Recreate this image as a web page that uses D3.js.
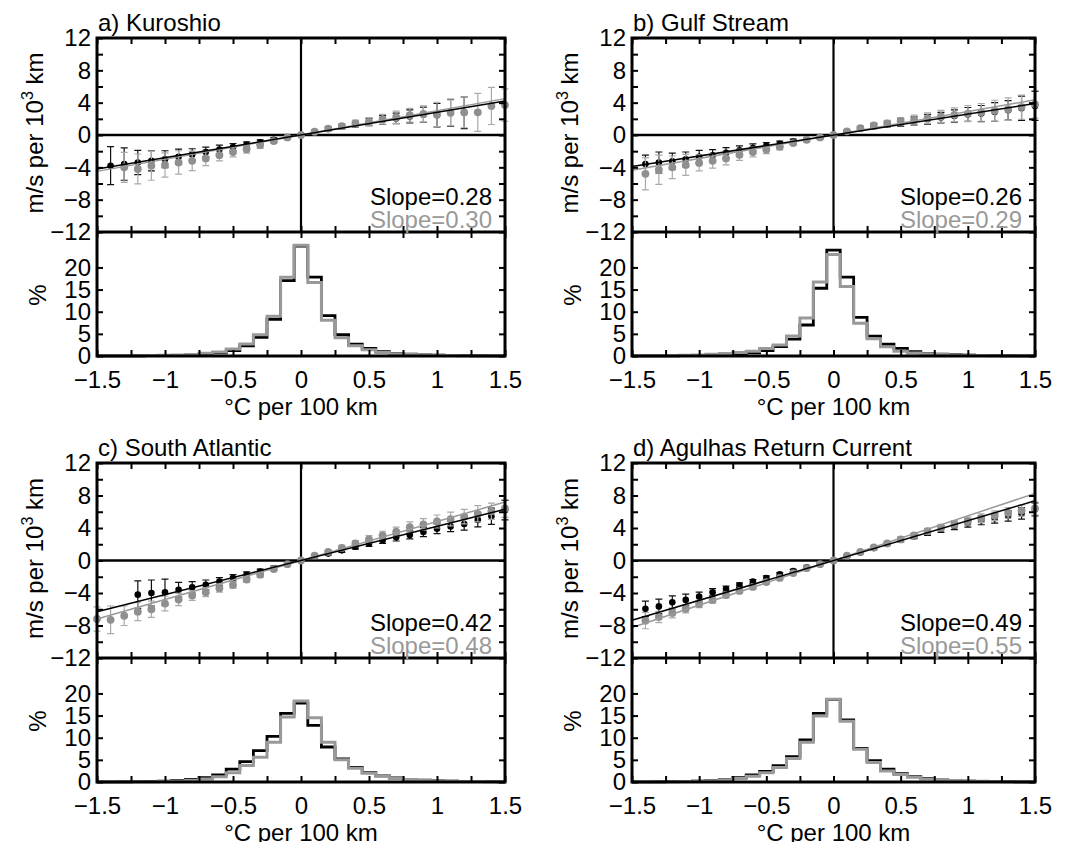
<!DOCTYPE html>
<html><head><meta charset="utf-8">
<script src="https://cdn.jsdelivr.net/npm/d3@7"></script>
<style>
body{margin:0;background:#fff}
svg{display:block}
text{font-family:"Liberation Sans",Arial,Helvetica,sans-serif;font-size:24px;fill:#000}
</style>
</head><body>
<svg id="chart" width="1066" height="842"></svg>
<script>
// ---------------- DATA ----------------
const X_BINS = [-1.5,-1.4,-1.3,-1.2,-1.1,-1.0,-0.9,-0.8,-0.7,-0.6,-0.5,-0.4,-0.3,-0.2,-0.1,0,0.1,0.2,0.3,0.4,0.5,0.6,0.7,0.8,0.9,1.0,1.1,1.2,1.3,1.4,1.5];

const titles = ["a) Kuroshio", "b) Gulf Stream", "c) South Atlantic", "d) Agulhas Return Current"];
const slopeBlack = [0.28, 0.26, 0.42, 0.49];
const slopeGray  = [0.30, 0.29, 0.48, 0.55];

// a) Kuroshio
const kuroBlackMean = [null,-3.8,-3.6,-3.4,-3.2,-3.0,-2.7,-2.4,-2.1,-1.8,-1.5,-1.2,-0.9,-0.6,-0.3,0,0.4,0.75,1.05,1.35,1.6,1.85,2.05,2.3,2.5,2.45,2.75,2.75,null,null,null];
const kuroBlackErr  = [null,2.35,2.0,1.5,1.25,1.05,0.95,0.7,0.6,0.55,0.45,0.35,0.3,0.25,0.2,0,0.2,0.25,0.3,0.35,0.45,0.55,0.65,0.8,0.95,1.45,1.65,1.95,null,null,null];
const kuroGrayMean  = [null,null,-4.0,-4.2,-3.8,-3.7,-3.4,-3.2,-2.9,-2.5,-2.1,-1.75,-1.25,-0.75,-0.3,0,0.4,0.8,1.1,1.45,1.65,1.95,2.2,2.45,2.6,2.55,2.75,2.8,2.8,3.6,3.7];
const kuroGrayErr   = [null,null,1.85,1.85,1.8,1.5,1.45,1.2,0.9,0.7,0.6,0.5,0.4,0.3,0.2,0,0.2,0.25,0.3,0.4,0.5,0.6,0.75,0.85,1.0,1.5,1.6,1.9,2.35,2.3,2.0];
const kuroBlackHist = [0.02,0.03,0.04,0.05,0.07,0.1,0.15,0.25,0.4,0.7,1.2,2.3,4.2,8.3,17.0,24.8,17.8,9.1,4.8,2.7,1.7,1.0,0.6,0.4,0.25,0.2,0.12,0.08,0.06,0.04,0.03];
const kuroGrayHist  = [0.03,0.04,0.05,0.07,0.1,0.15,0.25,0.35,0.6,0.9,1.6,2.7,4.8,9.0,17.8,25.0,16.6,8.1,4.1,2.3,1.4,0.8,0.5,0.35,0.25,0.15,0.1,0.07,0.05,0.04,0.03];

// b) Gulf Stream
const gulfBlackMean = [null,-3.6,-3.4,-3.25,-3.0,-2.7,-2.5,-2.2,-1.9,-1.6,-1.35,-1.1,-0.8,-0.55,-0.3,0,0.4,0.8,1.1,1.35,1.55,1.75,1.95,2.15,2.35,2.55,2.65,2.85,3.05,3.3,3.6];
const gulfBlackErr  = [null,1.1,1.3,1.0,0.9,0.8,0.7,0.65,0.55,0.5,0.4,0.35,0.3,0.2,0.15,0,0.15,0.2,0.3,0.35,0.45,0.5,0.6,0.65,0.75,0.85,1.0,1.15,1.2,1.5,1.8];
const gulfGrayMean  = [null,-4.8,-4.3,-4.0,-3.7,-3.45,-3.2,-2.9,-2.45,-2.1,-1.8,-1.45,-1.0,-0.6,-0.3,0,0.45,0.85,1.2,1.45,1.7,1.9,2.1,2.3,2.5,2.65,2.8,3.0,3.2,3.45,3.8];
const gulfGrayErr   = [null,2.0,1.8,1.4,1.3,1.0,0.9,0.8,0.7,0.6,0.5,0.4,0.3,0.25,0.2,0,0.2,0.25,0.3,0.35,0.45,0.55,0.65,0.75,0.85,1.0,1.1,1.3,1.4,1.5,1.7];
const gulfBlackHist = [0.02,0.03,0.04,0.06,0.08,0.15,0.2,0.3,0.5,0.7,1.2,2.1,3.8,7.0,15.3,23.9,17.8,8.7,4.5,2.65,1.7,1.0,0.6,0.4,0.3,0.2,0.12,0.08,0.06,0.04,0.03];
const gulfGrayHist  = [0.03,0.05,0.07,0.1,0.15,0.25,0.4,0.55,0.8,1.1,1.7,2.5,4.5,8.6,16.7,22.9,15.7,7.4,3.9,2.1,1.1,0.7,0.5,0.35,0.25,0.2,0.12,0.08,0.06,0.04,0.03];

// c) South Atlantic
const satlBlackMean = [null,null,null,-4.2,-4.0,-3.9,-3.6,-3.3,-3.0,-2.6,-2.15,-1.75,-1.35,-0.95,-0.45,0,0.5,0.85,1.25,1.7,2.1,2.5,2.85,3.15,3.5,3.9,4.2,4.5,5.0,5.45,6.2];
const satlBlackErr  = [null,null,null,1.7,1.6,1.6,0.9,0.7,0.6,0.5,0.4,0.35,0.3,0.25,0.2,0,0.15,0.2,0.25,0.3,0.35,0.4,0.45,0.5,0.55,0.6,0.65,0.75,0.85,1.0,1.2];
const satlGrayMean  = [-7.2,-7.3,-6.8,-6.3,-6.0,-5.3,-4.8,-4.3,-3.9,-3.4,-3.0,-2.35,-1.75,-1.05,-0.45,0,0.6,1.05,1.55,2.1,2.6,3.1,3.55,4.1,4.45,4.8,5.1,5.4,5.75,6.05,6.4];
const satlGrayErr   = [1.5,1.7,1.2,1.1,1.0,0.9,0.75,0.6,0.55,0.5,0.4,0.35,0.3,0.25,0.2,0,0.2,0.25,0.3,0.35,0.45,0.5,0.55,0.65,0.7,0.8,0.85,0.9,1.0,1.0,1.1];
const satlBlackHist = [0.03,0.04,0.06,0.08,0.12,0.2,0.35,0.6,1.0,1.6,2.9,4.6,7.1,10.3,15.5,17.8,12.8,7.9,5.2,3.3,2.1,1.4,0.9,0.6,0.4,0.3,0.2,0.14,0.1,0.07,0.05];
const satlGrayHist  = [0.02,0.03,0.04,0.06,0.08,0.12,0.2,0.4,0.7,1.2,2.1,3.7,5.6,9.0,14.7,18.3,14.5,9.0,5.0,3.1,2.0,1.3,0.8,0.55,0.4,0.3,0.2,0.14,0.1,0.07,0.05];

// d) Agulhas Return Current
const aguBlackMean = [null,-5.95,-5.65,-5.15,-4.85,-4.45,-3.9,-3.5,-3.05,-2.6,-2.15,-1.7,-1.3,-0.85,-0.4,0,0.55,1.0,1.55,2.05,2.55,3.0,3.45,3.85,4.25,4.6,4.95,5.2,5.5,5.8,6.3];
const aguBlackErr  = [null,0.95,0.9,0.8,0.7,0.55,0.45,0.35,0.3,0.25,0.25,0.2,0.2,0.15,0.1,0,0.1,0.15,0.2,0.2,0.25,0.3,0.35,0.4,0.45,0.5,0.55,0.6,0.65,0.7,0.8];
const aguGrayMean  = [null,-7.4,-6.95,-6.45,-5.95,-5.35,-4.85,-4.25,-3.75,-3.25,-2.65,-2.15,-1.55,-0.95,-0.45,0,0.6,1.05,1.6,2.1,2.6,3.1,3.6,4.05,4.45,4.85,5.2,5.5,5.85,6.15,6.4];
const aguGrayErr   = [null,1.0,0.7,0.6,0.5,0.45,0.4,0.35,0.3,0.3,0.25,0.2,0.2,0.15,0.1,0,0.1,0.15,0.2,0.25,0.3,0.3,0.35,0.4,0.45,0.5,0.55,0.6,0.65,0.7,0.8];
const aguBlackHist = [0.03,0.04,0.06,0.08,0.12,0.2,0.35,0.6,1.0,1.6,2.4,3.7,5.7,9.5,15.5,18.6,14.0,7.6,4.8,2.9,1.9,1.2,0.8,0.5,0.35,0.2,0.15,0.1,0.07,0.05,0.03];
const aguGrayHist  = [0.03,0.04,0.05,0.07,0.1,0.2,0.3,0.5,0.8,1.3,2.1,3.3,5.3,9.0,14.9,18.7,13.7,7.4,4.4,2.5,1.7,1.1,0.7,0.5,0.35,0.2,0.15,0.1,0.07,0.05,0.03];

// axis ticks
const xTicks = [-1.5,-1.25,-1,-0.75,-0.5,-0.25,0,0.25,0.5,0.75,1,1.25,1.5];
const xTickLabels = [-1.5,-1,-0.5,0,0.5,1,1.5];
const yTicksUpper = [-12,-10,-8,-6,-4,-2,0,2,4,6,8,10,12];
const yLabelsUpper = [-12,-8,-4,0,4,8,12];
const yTicksLower = [0,5,10,15,20];
const yDomainUpper = [-12, 12];
const yDomainLower = [0, 28];
const xDomain = [-1.5, 1.5];
const xLabel = "°C per 100 km";

// ---------------- BUILD ----------------
const panelData = [
  {bm:kuroBlackMean, be:kuroBlackErr, gm:kuroGrayMean, ge:kuroGrayErr, bh:kuroBlackHist, gh:kuroGrayHist},
  {bm:gulfBlackMean, be:gulfBlackErr, gm:gulfGrayMean, ge:gulfGrayErr, bh:gulfBlackHist, gh:gulfGrayHist},
  {bm:satlBlackMean, be:satlBlackErr, gm:satlGrayMean, ge:satlGrayErr, bh:satlBlackHist, gh:satlGrayHist},
  {bm:aguBlackMean,  be:aguBlackErr,  gm:aguGrayMean,  ge:aguGrayErr,  bh:aguBlackHist,  gh:aguGrayHist}
];
const layout = [
  {L:97,  R:505,  T:38,  M:232, B:356},
  {L:632, R:1035, T:38,  M:232, B:356},
  {L:97,  R:505,  T:463, M:658, B:782},
  {L:632, R:1035, T:463, M:658, B:782}
];
const GRAY = "#999";
const GRAY_PT = "#8f8f8f";
const GRAY_BAR = "#aaa";

const fmt = d => d < 0 ? "\u2212" + Math.abs(d) : String(d);
const svg = d3.select("#chart");

panelData.forEach((pd, i) => {
  const {L, R, T, M, B} = layout[i];
  const g = svg.append("g");
  const x = d3.scaleLinear().domain(xDomain).range([L, R]);
  const yU = d3.scaleLinear().domain(yDomainUpper).range([M, T]);
  const yL = d3.scaleLinear().domain(yDomainLower).range([B, M]);

  // zero lines
  g.append("line").attr("x1", L).attr("x2", R).attr("y1", yU(0)).attr("y2", yU(0))
    .attr("stroke", "#000").attr("stroke-width", 2.4);
  g.append("line").attr("x1", x(0)).attr("x2", x(0)).attr("y1", T).attr("y2", M)
    .attr("stroke", "#000").attr("stroke-width", 2.2);

  // series
  function drawSeries(means, errs, fill, barColor, r) {
    const pts = X_BINS.map((xv, k) => ({x: xv, m: means[k], e: errs[k]})).filter(d => d.m != null);
    g.append("g").selectAll("path").data(pts.filter(d => d.e > 0)).join("path")
      .attr("d", d => {
        const cx = x(d.x), y1 = yU(d.m - d.e), y2 = yU(d.m + d.e), w = 3.5;
        return `M${cx},${y1}V${y2}M${cx - w},${y1}H${cx + w}M${cx - w},${y2}H${cx + w}`;
      })
      .attr("fill", "none").attr("stroke", barColor).attr("stroke-width", 1.2);
    g.append("g").selectAll("circle").data(pts).join("circle")
      .attr("cx", d => x(d.x)).attr("cy", d => yU(d.m)).attr("r", r).attr("fill", fill);
  }
  drawSeries(pd.bm, pd.be, "#000", "#111", 3.3);
  drawSeries(pd.gm, pd.ge, GRAY_PT, GRAY_BAR, 3.9);

  // fit lines (slope in m/s per 10^3 km per degC per 100 km -> factor 10 between axis units)
  const fitLine = s => d3.line()(xDomain.map(v => [x(v), yU(s * 10 * v)]));
  g.append("path").attr("d", fitLine(slopeGray[i])).attr("stroke", GRAY).attr("stroke-width", 1.5).attr("fill", "none");
  g.append("path").attr("d", fitLine(slopeBlack[i])).attr("stroke", "#000").attr("stroke-width", 1.5).attr("fill", "none");

  // histograms
  const hLine = d3.line().x((d, k) => x(X_BINS[k])).y(d => yL(d)).curve(d3.curveStep);
  g.append("path").attr("d", hLine(pd.bh)).attr("fill", "none").attr("stroke", "#000").attr("stroke-width", 2.8);
  g.append("path").attr("d", hLine(pd.gh)).attr("fill", "none").attr("stroke", GRAY).attr("stroke-width", 3);

  // axes
  const clean = sel => {
    sel.select(".domain").remove();
    sel.selectAll("line").attr("stroke-width", 2);
    sel.selectAll("text").filter(function () { return !this.textContent; }).remove();
    sel.selectAll("text").attr("font-size", 24).attr("font-family", null).attr("fill", "#000");
  };
  const ts = -6;
  g.append("g").attr("transform", `translate(0,${T})`).call(d3.axisTop(x).tickValues(xTicks).tickSize(ts).tickFormat("")).call(clean);
  g.append("g").attr("transform", `translate(0,${M})`).call(d3.axisBottom(x).tickValues(xTicks).tickSize(ts).tickFormat("")).call(clean);
  g.append("g").attr("transform", `translate(0,${M})`).call(d3.axisTop(x).tickValues(xTicks).tickSize(ts).tickFormat("")).call(clean);
  g.append("g").attr("transform", `translate(0,${B})`)
    .call(d3.axisBottom(x).tickValues(xTicks).tickSize(ts).tickPadding(15)
      .tickFormat(d => xTickLabels.includes(d) ? fmt(d) : "")).call(clean);
  g.append("g").attr("transform", `translate(${L},0)`)
    .call(d3.axisLeft(yU).tickValues(yTicksUpper).tickSize(ts).tickPadding(6)
      .tickFormat(d => yLabelsUpper.includes(d) ? fmt(d) : "")).call(clean);
  g.append("g").attr("transform", `translate(${R},0)`).call(d3.axisRight(yU).tickValues(yTicksUpper).tickSize(ts).tickFormat("")).call(clean);
  g.append("g").attr("transform", `translate(${L},0)`)
    .call(d3.axisLeft(yL).tickValues(yTicksLower).tickSize(ts).tickPadding(6).tickFormat(fmt)).call(clean);
  g.append("g").attr("transform", `translate(${R},0)`).call(d3.axisRight(yL).tickValues(yTicksLower).tickSize(ts).tickFormat("")).call(clean);

  // frames
  g.append("rect").attr("x", L).attr("y", T).attr("width", R - L).attr("height", B - T)
    .attr("fill", "none").attr("stroke", "#000").attr("stroke-width", 3);
  g.append("line").attr("x1", L).attr("x2", R).attr("y1", M).attr("y2", M)
    .attr("stroke", "#000").attr("stroke-width", 3);

  // texts
  g.append("text").attr("x", L + 1).attr("y", T - 7).text(titles[i]);
  g.append("text").attr("x", R - 13).attr("y", M - 27).attr("text-anchor", "end")
    .text("Slope=" + slopeBlack[i].toFixed(2));
  g.append("text").attr("x", R - 13).attr("y", M - 4).attr("text-anchor", "end")
    .style("fill", GRAY).text("Slope=" + slopeGray[i].toFixed(2));

  const yl = g.append("text").attr("text-anchor", "middle")
    .attr("transform", `translate(${L - 54},${(T + M) / 2 - 2}) rotate(-90)`);
  yl.append("tspan").text("m/s per 10");
  yl.append("tspan").attr("dy", -10).attr("font-size", 16).text("3");
  yl.append("tspan").attr("dy", 10).text(" km");

  g.append("text").attr("text-anchor", "middle")
    .attr("transform", `translate(${L - 51},${(M + B) / 2 + 1}) rotate(-90)`).text("%");

  g.append("text").attr("text-anchor", "middle").attr("x", (L + R) / 2).attr("y", B + 59).text(xLabel);
});
</script>
</body></html>
